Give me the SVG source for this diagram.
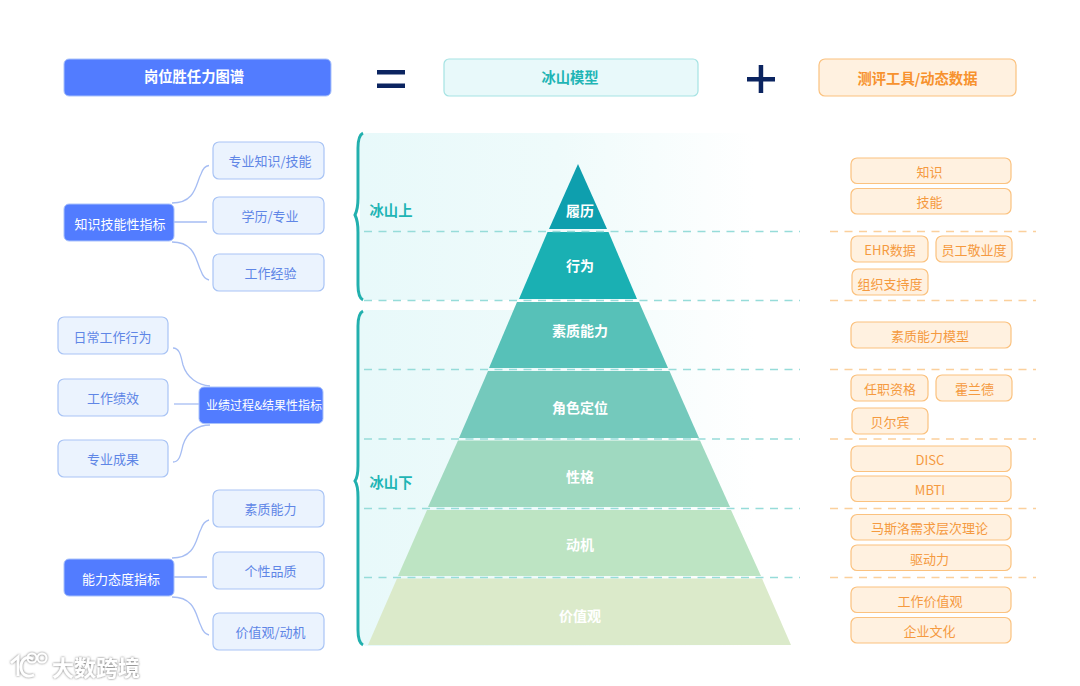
<svg xmlns="http://www.w3.org/2000/svg" width="1080" height="686" viewBox="0 0 1080 686">
<style>
text{font-family:"Noto Sans CJK SC","Noto Sans",sans-serif;text-anchor:middle;dominant-baseline:central}
.hb{fill:#527cff;stroke:#a9c2fb;stroke-width:1}
.lb{fill:#ebf3fe;stroke:#a9c4f5;stroke-width:1.2}
.ob{fill:#fff1e0;stroke:#fbc27f;stroke-width:1.2}
.wt{fill:#fff;font-size:13px}
.bt{fill:#5f86e6;font-size:13px}
.ot{fill:#f59a3f;font-size:13px}
.pt{fill:#fff;font-size:14px;font-weight:700}
.ht{font-size:14.300px;font-weight:700}
.cn{fill:none;stroke:#a6bdf3;stroke-width:1.3}
.tl{fill:none;stroke:#96dcd9;stroke-width:1.400;stroke-dasharray:8 6.5}
.ol{fill:none;stroke:#fbd09c;stroke-width:1.400;stroke-dasharray:8 6.5}
.br{fill:none;stroke:#22b0ae;stroke-width:3}
.ic{fill:#0b2460}
</style>
<defs>
<linearGradient id="pg" x1="0" x2="1" y1="0" y2="0"><stop offset="0" stop-color="#e8f9fa"/><stop offset="0.5" stop-color="#effbfb"/><stop offset="1" stop-color="#fff"/></linearGradient>
<filter id="ws" x="-20%" y="-20%" width="140%" height="140%"><feDropShadow dx="0" dy="0" stdDeviation="1.300" flood-color="#666" flood-opacity="1"/></filter>
</defs>
<rect width="1080" height="686" fill="#fff"/>
<g id="panels">
<path d="M368 133H755V300H368Q360 300 360 292V141Q360 133 368 133Z" fill="url(#pg)"/>
<path d="M368 310H755V646H368Q360 646 360 638V318Q360 310 368 310Z" fill="url(#pg)"/>
</g>
<g id="title-left"><rect class="hb" x="64" y="59" width="267" height="37" rx="5"/><text class="ht" fill="#fff" x="194" y="75">岗位胜任力图谱</text></g>
<g id="equals"><rect class="ic" x="377" y="70" width="28" height="4.500"/><rect class="ic" x="377" y="83.500" width="28" height="4.500"/></g>
<g id="title-mid"><rect x="444" y="59" width="254" height="37" rx="5" fill="#e8f9fa" stroke="#a5e3e3" stroke-width="1.2"/><text class="ht" fill="#1fb5b5" x="570" y="76">冰山模型</text></g>
<g id="plus"><rect class="ic" x="747" y="77" width="28" height="4.500"/><rect class="ic" x="758.700" y="65" width="4.500" height="28"/></g>
<g id="title-right"><rect class="ob" x="819" y="59" width="197" height="37" rx="6"/><text class="ht" fill="#f7922e" x="917.500" y="77">测评工具/动态数据</text></g>
<g id="braces">
<path class="br" d="M363 133C359 135 358 140 358 148V198C358 206 357 211 355 215C357 219 358 224 358 232V285C358 293 359 298 363 300"/>
<path class="br" d="M363 311C359 313 358 318 358 326V466C358 474 357 478 355 481C357 484 358 489 358 497V630C358 638 359 643 363 645"/>
<text class="ht" fill="#1fb5b5" x="391" y="209">冰山上</text>
<text class="ht" fill="#1fb5b5" x="391" y="481">冰山下</text>
</g>
<g id="pyramid">
<polygon points="578,164 607,229 549,229" fill="#0e9fae"/>
<polygon points="547.500,232 608.500,232 637,299 519,299" fill="#1ab0b3"/>
<polygon points="517,302 639,302 668,368 489,368" fill="#57c1b8"/>
<polygon points="488,371 669.500,371 699,438 459,438" fill="#74c9bc"/>
<polygon points="458,440.500 700,440.500 730,507 428,507" fill="#9fd9c0"/>
<polygon points="427,510 731,510 761,576 398,576" fill="#bde4c3"/>
<polygon points="397,578.500 762,578.500 791,645 368,645" fill="#dbeaca"/>
<text class="pt" x="580" y="210">履历</text>
<text class="pt" x="580" y="265">行为</text>
<text class="pt" x="580" y="330">素质能力</text>
<text class="pt" x="580" y="407">角色定位</text>
<text class="pt" x="580" y="476">性格</text>
<text class="pt" x="580" y="544">动机</text>
<text class="pt" x="580" y="615">价值观</text>
</g>
<g id="dividers">
<path class="tl" d="M364 231.500H800M364 300.500H800M364 369.500H800M364 439H800M364 508.500H800M364 577.500H800"/>
<path class="ol" d="M830 231.500H1036M830 300.500H1036M830 369.500H1036M830 439H1036M830 508.500H1036M830 577.500H1036"/>
</g>
<g id="connectors">
<path class="cn" d="M172 203C196 203 196 183 201 174C203 168 205 166 209 165.500"/>
<path class="cn" d="M174 222H207"/>
<path class="cn" d="M172 242C196 242 196 262 201 271C203 277 205 279 209 280"/>
<path class="cn" d="M173 348C180 348 181 357 183 365C187 378 198 385 210 386"/>
<path class="cn" d="M174 404H199"/>
<path class="cn" d="M173 462C180 462 181 453 183 445C187 432 198 425 210 425"/>
<path class="cn" d="M172 558C196 558 196 538 201 529C203 523 205 521 209 520"/>
<path class="cn" d="M174 577H207"/>
<path class="cn" d="M172 597C196 597 196 617 201 626C203 632 205 634 209 635"/>
</g>
<g id="n-zhishi"><rect class="hb" x="64" y="204" width="110" height="37" rx="5"/><text class="wt" x="120" y="223">知识技能性指标</text></g>
<g id="n-zyzs"><rect class="lb" x="213" y="142" width="111" height="37" rx="6"/><text class="bt" x="270" y="160">专业知识/技能</text></g>
<g id="n-xl"><rect class="lb" x="213" y="197" width="111" height="37" rx="6"/><text class="bt" x="270" y="215">学历/专业</text></g>
<g id="n-gzjy"><rect class="lb" x="213" y="254" width="111" height="37" rx="6"/><text class="bt" x="270.500" y="272">工作经验</text></g>
<g id="n-yeji"><rect class="hb" x="199" y="387" width="124" height="36.500" rx="5"/><text class="wt" style="font-size:12px" x="264" y="404">业绩过程&amp;结果性指标</text></g>
<g id="n-rcgz"><rect class="lb" x="58" y="317" width="110" height="37" rx="6"/><text class="bt" x="112.500" y="336">日常工作行为</text></g>
<g id="n-gzjx"><rect class="lb" x="58" y="379" width="110" height="37" rx="6"/><text class="bt" x="113" y="397">工作绩效</text></g>
<g id="n-zycg"><rect class="lb" x="58" y="440" width="110" height="37" rx="6"/><text class="bt" x="113" y="458">专业成果</text></g>
<g id="n-nengli"><rect class="hb" x="64" y="559" width="110" height="37" rx="5"/><text class="wt" x="121" y="578">能力态度指标</text></g>
<g id="n-szl"><rect class="lb" x="213" y="490" width="111" height="37" rx="6"/><text class="bt" x="270.500" y="508.500">素质能力</text></g>
<g id="n-gxpz"><rect class="lb" x="213" y="552" width="111" height="37" rx="6"/><text class="bt" x="270.500" y="570">个性品质</text></g>
<g id="n-jzg"><rect class="lb" x="213" y="613" width="111" height="37" rx="6"/><text class="bt" x="270.500" y="631">价值观/动机</text></g>
<g id="r-zs"><rect class="ob" x="851" y="158" width="160" height="25.500" rx="6"/><text class="ot" x="929.500" y="171">知识</text></g>
<g id="r-jn"><rect class="ob" x="851" y="188.500" width="160" height="25.500" rx="6"/><text class="ot" x="929.500" y="201">技能</text></g>
<g id="r-ehr"><rect class="ob" x="851" y="236" width="77" height="26" rx="6"/><text class="ot" x="890" y="249">EHR数据</text></g>
<g id="r-yg"><rect class="ob" x="936" y="236" width="76" height="26" rx="6"/><text class="ot" x="974" y="249">员工敬业度</text></g>
<g id="r-zz"><rect class="ob" x="852" y="269" width="76" height="26" rx="6"/><text class="ot" x="890" y="283">组织支持度</text></g>
<g id="r-szmx"><rect class="ob" x="851" y="322" width="160" height="26" rx="6"/><text class="ot" x="930" y="335.500">素质能力模型</text></g>
<g id="r-rz"><rect class="ob" x="851" y="375" width="77" height="26" rx="6"/><text class="ot" x="890" y="388.500">任职资格</text></g>
<g id="r-hld"><rect class="ob" x="936" y="375" width="76" height="26" rx="6"/><text class="ot" x="974.500" y="388.500">霍兰德</text></g>
<g id="r-beb"><rect class="ob" x="852" y="408" width="76" height="26" rx="6"/><text class="ot" x="890" y="421.500">贝尔宾</text></g>
<g id="r-disc"><rect class="ob" x="851" y="446" width="160" height="25.500" rx="6"/><text class="ot" x="930" y="459">DISC</text></g>
<g id="r-mbti"><rect class="ob" x="851" y="476" width="160" height="25.500" rx="6"/><text class="ot" x="930" y="489">MBTI</text></g>
<g id="r-msl"><rect class="ob" x="851" y="514.500" width="160" height="25.500" rx="6"/><text class="ot" x="929.500" y="527.500">马斯洛需求层次理论</text></g>
<g id="r-qdl"><rect class="ob" x="851" y="545" width="160" height="25.500" rx="6"/><text class="ot" x="929.500" y="558">驱动力</text></g>
<g id="r-gzjzg"><rect class="ob" x="851" y="587" width="160" height="25.500" rx="6"/><text class="ot" x="930" y="600">工作价值观</text></g>
<g id="r-qywh"><rect class="ob" x="851" y="617.500" width="160" height="25.500" rx="6"/><text class="ot" x="929.500" y="630">企业文化</text></g>
<g id="watermark" filter="url(#ws)">
<path d="M11 663L18 657V676M33 659C26 655 21 660 21 667C21 674 26 678 34 675" fill="none" stroke="#fff" stroke-width="2.800"/>
<circle cx="32" cy="658" r="4.500" fill="none" stroke="#fff" stroke-width="2"/>
<circle cx="42" cy="658" r="4.500" fill="none" stroke="#fff" stroke-width="2"/>
<text x="96" y="666" fill="#fff" style="font-size:22px;font-weight:700">大数跨境</text>
</g>
</svg>
